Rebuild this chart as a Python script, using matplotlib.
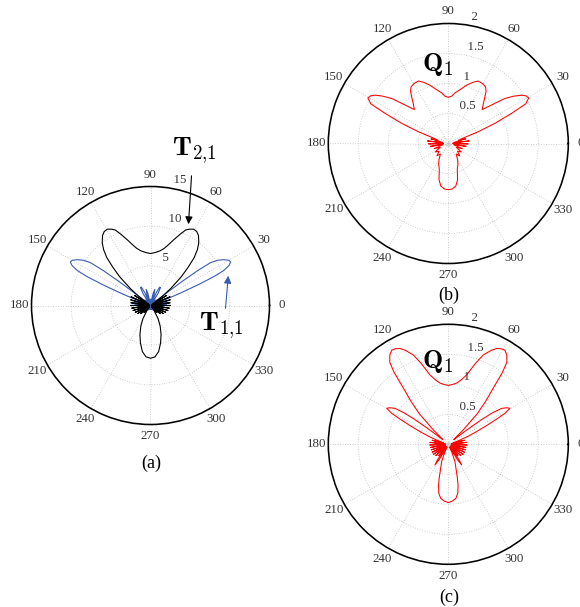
import numpy as np
import matplotlib.pyplot as plt

plt.rcParams['font.family'] = ['Liberation Serif', 'DejaVu Serif']
plt.rcParams['mathtext.fontset'] = 'cm'

# ---- (a) T_{2,1} (black) and T_{1,1} (blue), radial scale 0..15 ----
t21_deg = [0, 4, 8, 12, 16, 20, 24, 28, 32, 35, 38, 40, 43, 45.5, 47.7, 50, 52.5, 55.6, 58, 60.5,
           63, 65, 67.5, 70.5, 73.5, 76.5, 80, 85, 90, 95, 100, 103.5, 106.5, 109.5, 112.5, 115, 117,
           119.5, 122, 124.4, 127.5, 130, 132.3, 134.5, 137, 140, 142, 145, 148, 152, 156, 160, 164,
           168, 172, 176, 180, 184, 188, 192, 196, 200, 204, 208, 212, 216, 220, 224, 228, 232, 235,
           240, 245, 250, 255, 260, 265, 270, 275, 280, 285, 290, 295, 300, 305, 308, 312, 316, 320,
           324, 328, 332, 336, 340, 344, 348, 352, 356, 360]
t21_r = [2.5, 0.2, 2.5, 0.2, 2.6, 0.2, 2.7, 0.2, 2.4, 0.3, 2.0, 3.3, 5.3, 6.8, 8.2, 9.2, 10.0, 10.7, 11.0, 11.05,
         10.8, 10.5, 9.7, 8.8, 8.0, 7.4, 7.0, 6.7, 6.55, 6.7, 7.0, 7.4, 8.0, 8.8, 9.7, 10.5, 10.8,
         11.05, 11.0, 10.7, 10.0, 9.2, 8.2, 6.8, 5.3, 3.3, 2.0, 0.3, 2.4, 0.2, 2.7, 0.2, 2.6,
         0.2, 2.5, 0.2, 2.5, 0.2, 2.4, 0.2, 2.3, 0.2, 2.1, 0.2, 1.9, 0.2, 1.6, 0.2, 1.2, 0.2, 0.8,
         1.9, 2.9, 3.9, 4.9, 5.9, 6.5, 6.65, 6.5, 5.9, 4.9, 3.9, 2.9, 1.9, 0.8, 0.2, 1.2, 0.2, 1.6,
         0.2, 1.9, 0.2, 2.1, 0.2, 2.3, 0.2, 2.4, 0.2, 2.5]

t11_deg = [2, 6, 10, 14, 17, 19, 21, 22.5, 23.5, 24.5, 25.5, 27, 28.5, 30, 32, 34, 35.5, 36.5, 37.3, 38,
           39.5, 43, 47, 51, 55, 58, 61, 63.5, 66, 69, 72, 75, 78, 81, 86, 90, 94, 99, 102, 105, 108,
           111, 114, 116.5, 119, 122, 125, 129, 133, 137, 140.5, 142, 142.7, 143.5, 144.5, 146, 148, 150,
           151.5, 153, 154.5, 155.5, 156.5, 157.5, 159, 161, 163, 166, 170, 174, 178, 182, 186, 190,
           194, 198, 202, 206, 210, 214, 220, 226, 232, 238, 246, 254, 262, 270, 278, 286, 294, 302,
           308, 314, 320, 326, 330, 334, 338, 342, 346, 350, 354, 358, 362]
t11_r = [2.0, 0.1, 2.3, 0.1, 1.4, 0.3, 1.5, 4.0, 6.5, 8.8, 10.2, 11.1, 11.5, 11.4, 10.9, 10.2, 9.3, 7.4, 4.9, 2.5,
         0.5, 1.0, 0.2, 0.9, 0.2, 1.8, 2.6, 2.6, 1.8, 0.2, 1.5, 2.1, 1.5, 0.2, 0.6, 0.8, 0.6, 0.2, 1.5, 2.1, 1.5,
         0.2, 1.8, 2.6, 2.6, 1.8, 0.2, 0.9, 0.2, 1.0, 0.5, 2.5, 4.9, 7.4, 9.3, 10.2, 10.9, 11.4,
         11.5, 11.1, 10.2, 8.8, 6.5, 4.0, 1.5, 0.3, 1.4, 0.1, 2.3, 0.1, 2.0, 0.1, 1.6, 0.1,
         1.3, 0.1, 1.1, 0.1, 0.9, 0.1, 0.8, 0.1, 0.7, 0.1, 0.6, 0.1, 0.5, 0.1, 0.5, 0.1, 0.6, 0.1,
         0.7, 0.1, 0.8, 0.1, 0.9, 0.1, 1.1, 0.1, 1.3, 0.1, 1.6, 0.1, 2.0]

# ---- (b) Q_1, radial scale 0..2 ----
q1b_deg = [3, 7, 11, 15, 18, 20.4, 21.5, 23.4, 25.5, 27.1, 29.5, 31.5, 33.5, 36, 38.6, 41.6, 45, 48.5,
           51.9, 54, 56.6, 60, 64.4, 68, 72.5, 77, 82.6, 86, 90, 94, 97.4, 103, 107.5, 112, 115.6, 120,
           123.4, 126, 128.1, 131.5, 135, 138.4, 141.4, 144, 146.5, 148.5, 150.5, 152.9, 154.5, 156.6,
           158.5, 159.6, 162, 165, 169, 173, 177, 181, 185, 189, 194, 200, 206, 213, 220, 227, 233,
           240, 245, 251, 255.5, 260, 265, 270, 275, 280, 284.5, 289, 295, 300, 307, 313, 320, 327,
           334, 340, 346, 351, 355, 359, 363]
q1b_r = [0.08, 0.35, 0.10, 0.30, 0.18, 0.30, 0.54, 0.85, 1.17, 1.45, 1.54, 1.52, 1.46, 1.34, 1.20, 0.97, 0.80, 0.88,
         0.99, 1.07, 1.13, 1.15, 1.155, 1.10, 1.02, 0.93, 0.85, 0.79, 0.77, 0.79, 0.85, 0.93, 1.02, 1.10, 1.155, 1.15,
         1.13, 1.07, 0.99, 0.88, 0.80, 0.97, 1.20, 1.34, 1.46, 1.52, 1.54, 1.45, 1.17, 0.85,
         0.54, 0.30, 0.18, 0.30, 0.10, 0.35, 0.08, 0.33, 0.08, 0.30, 0.10, 0.25, 0.15, 0.26, 0.20, 0.28, 0.22,
         0.31, 0.38, 0.46, 0.62, 0.72, 0.76, 0.77, 0.76, 0.72, 0.62, 0.46, 0.38, 0.31, 0.22, 0.28, 0.20, 0.26,
         0.15, 0.25, 0.10, 0.30, 0.08, 0.33, 0.08]

# ---- (c) Q_1, radial scale 0..2 ----
q1c_deg = [1, 6, 9, 14, 17, 20, 22, 24, 26, 27.5, 28.7, 30.3, 32, 34, 35.5, 36.5, 37.5, 38.5, 40, 42, 44,
           46.5, 49, 51, 53, 54.5, 56.8, 59, 61, 63.2, 65.5, 68.6, 71.5, 75.1, 78.5, 82.2, 86, 90, 94,
           97.8, 101.5, 104.9, 108.5, 111.4, 114.5, 116.8, 119, 121, 123.2, 125.5, 127, 129, 131, 133.5,
           136, 138, 140, 141.5, 142.5, 143.5, 144.5, 146, 148, 149.7, 151.3, 152.5, 154, 156, 158, 160,
           163, 166, 171, 174, 179, 182, 187, 190, 195, 198, 203, 206, 211, 214, 219, 222, 227, 230, 233,
           235, 237, 239, 242, 244, 246, 249, 255, 256.6, 259, 262, 266, 270, 274, 278, 281, 283.4, 285,
           291, 294, 296, 298, 301, 303, 305, 307, 310, 313, 318, 321, 326, 329, 334, 337, 342, 345, 350,
           353, 358, 361]
q1c_r = [0.05, 0.31, 0.05, 0.28, 0.08, 0.20, 0.35, 0.50, 0.70, 0.90, 1.08, 1.19, 1.15, 1.07, 0.90, 0.70, 0.45, 0.25, 0.12, 0.15, 0.35,
         0.70, 0.95, 1.15, 1.50, 1.68, 1.78, 1.83, 1.82, 1.79, 1.72, 1.60, 1.42, 1.20, 1.10, 1.03, 1.00, 0.98, 1.00,
         1.03, 1.10, 1.20, 1.42, 1.60, 1.72, 1.79, 1.82, 1.83, 1.78, 1.68, 1.50, 1.15, 0.95, 0.70,
         0.35, 0.15, 0.12, 0.25, 0.45, 0.70, 0.90, 1.07, 1.15, 1.19, 1.08, 0.90, 0.70, 0.50, 0.35, 0.20,
         0.08, 0.28, 0.05, 0.31, 0.05, 0.31, 0.05, 0.30, 0.05, 0.30, 0.05, 0.30, 0.05, 0.30, 0.05, 0.28, 0.05, 0.25, 0.08,
         0.30, 0.41, 0.30, 0.10, 0.05, 0.15, 0.31, 0.59, 0.70, 0.83, 0.91, 0.95, 0.97, 0.95, 0.91, 0.83, 0.70, 0.59,
         0.31, 0.15, 0.05, 0.10, 0.30, 0.41, 0.30, 0.08, 0.25, 0.05, 0.28, 0.05, 0.30, 0.05, 0.30, 0.05, 0.30, 0.05, 0.30,
         0.05, 0.31, 0.05]

ring_a = [5, 10, 15]
ring_q = [0.5, 1, 1.5, 2]
ring_q_labels = ['0.5', '1', '1.5', '2']
theta_labels = [str(d) for d in range(0, 360, 30)]

W, H = 580, 607
fig = plt.figure(figsize=(W / 100, H / 100), dpi=100)


def box(cx, cy, rad):
    # pixel centre/radius (from top-left) -> figure fraction rectangle
    return [(cx - rad) / W, (H - cy - rad) / H, 2 * rad / W, 2 * rad / H]


def matlab_polar(ax, rings, labels):
    rmax = rings[-1]
    rinc = rings[1] - rings[0]
    ax.set_ylim(0, rmax)
    ax.set_thetagrids(range(0, 360, 30), labels=[])
    ax.set_rgrids(rings[:-1], labels=[])
    ax.tick_params(length=0)
    ax.grid(True, color='#bdbdbd', ls=(0, (1, 2)), lw=0.6)
    ax.set_axisbelow(True)
    ax.spines['polar'].set_linewidth(1.15)
    ax.spines['polar'].set_color('black')
    for deg, lab in zip(range(0, 360, 30), theta_labels):
        ax.text(np.deg2rad(deg), 1.1 * rmax, lab, ha='center', va='center',
                fontsize=9.3, color='#333333', clip_on=False)
    for r, lab in zip(rings, labels):
        ax.text(np.deg2rad(82), r + rinc / 20, '  ' + lab, ha='left', va='bottom',
                fontsize=9.3, color='#333333', clip_on=False)


# (a)
ax_a = fig.add_axes(box(150.5, 305.5, 119), projection='polar')
matlab_polar(ax_a, ring_a, [str(r) for r in ring_a])
ax_a.plot(np.deg2rad(t11_deg), t11_r, color='#3a5cb0', lw=0.8)
ax_a.plot(np.deg2rad(t21_deg), t21_r, color='black', lw=0.8)

# (b)
ax_b = fig.add_axes(box(448.3, 143.5, 120), projection='polar')
matlab_polar(ax_b, ring_q, ring_q_labels)
ax_b.plot(np.deg2rad(q1b_deg), q1b_r, color='red', lw=0.75)

# (c)
ax_c = fig.add_axes(box(448.3, 444.3, 120), projection='polar')
matlab_polar(ax_c, ring_q, ring_q_labels)
ax_c.plot(np.deg2rad(q1c_deg), q1c_r, color='red', lw=0.75)

for ax in (ax_b, ax_c):
    ax.plot([0], [0], 'o', ms=2.5, mfc='none', mec='#bdbdbd', mew=0.6)


def fx(x):
    return x / W


def fy(y):
    return (H - y) / H


# captions
fig.text(fx(151), fy(463), '(a)', ha='center', va='center', fontsize=13)
fig.text(fx(449), fy(295), '(b)', ha='center', va='center', fontsize=13)
fig.text(fx(449), fy(597), '(c)', ha='center', va='center', fontsize=13)

# labels and arrows
fig.text(fx(172), fy(155), r'$\mathbf{T}_{2{,}1}$', ha='left', va='baseline', fontsize=19.5)
fig.text(fx(199), fy(330), r'$\mathbf{T}_{1{,}1}$', ha='left', va='baseline', fontsize=19.5)
fig.text(fx(422), fy(71), r'$\mathbf{Q}_{1}$', ha='left', va='baseline', fontsize=19.5)
fig.text(fx(422), fy(368), r'$\mathbf{Q}_{1}$', ha='left', va='baseline', fontsize=19.5)

ax_a.annotate('', xy=(fx(188.3), fy(227)), xycoords='figure fraction',
              xytext=(fx(191.7), fy(173)), textcoords='figure fraction',
              arrowprops=dict(arrowstyle='-|>', color='black', lw=0.8, mutation_scale=11))
ax_a.annotate('', xy=(fx(228.5), fy(273)), xycoords='figure fraction',
              xytext=(fx(225.3), fy(311)), textcoords='figure fraction',
              arrowprops=dict(arrowstyle='-|>', color='#3a5cb0', lw=0.8, mutation_scale=11))

fig.savefig('out.png', dpi=100, facecolor='white')
